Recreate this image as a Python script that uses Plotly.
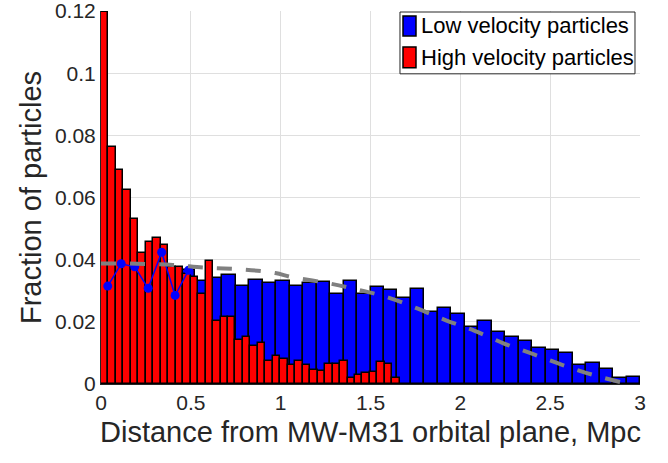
import plotly.graph_objects as go

# ---- data ----
blue_bin_width = 0.075
blue_values = [0.0315, 0.0387, 0.0377, 0.0308, 0.0424, 0.0285, 0.0366, 0.0332,
               0.0341, 0.0352, 0.0315, 0.0336, 0.0325, 0.0332, 0.0315, 0.0325,
               0.0328, 0.0288, 0.0333, 0.0290, 0.0312, 0.0304, 0.0277, 0.0305,
               0.0232, 0.0246, 0.0225, 0.0182, 0.0202, 0.0168, 0.0152, 0.0138,
               0.0117, 0.0109, 0.0100, 0.0061, 0.0068, 0.0047, 0.0020, 0.0023]

red_bin_width = 0.041575
red_values = [0.1197, 0.0762, 0.0690, 0.0623, 0.0530, 0.0423, 0.0457, 0.0470,
              0.0446, 0.0377, 0.0377, 0.0353, 0.0344, 0.0289, 0.0397, 0.0202,
              0.0215, 0.0217, 0.0142, 0.0152, 0.0122, 0.0133, 0.0075, 0.0089,
              0.0080, 0.0061, 0.0075, 0.0061, 0.0045, 0.0042, 0.0064, 0.0064,
              0.0075, 0.0020, 0.0029, 0.0036, 0.0039, 0.0070, 0.0063, 0.0018]

# hidden low-velocity values shown as a line over the red bars
line_count = 7

model_x = [0.0, 0.2, 0.4, 0.57, 0.8, 0.97, 1.06, 1.25, 1.42, 1.6, 1.76, 1.92,
           2.08, 2.24, 2.41, 2.57, 2.74, 2.91, 2.96]
model_y = [0.0388, 0.0387, 0.0383, 0.0375, 0.0368, 0.0357, 0.0344, 0.0326,
           0.0305, 0.0278, 0.0243, 0.0205, 0.0171, 0.0131, 0.0095, 0.0061,
           0.0029, 0.0004, 0.0]

x_ticks = [0, 0.5, 1, 1.5, 2, 2.5, 3]
y_ticks = [0, 0.02, 0.04, 0.06, 0.08, 0.1, 0.12]
y_tick_text = ["0", "0.02", "0.04", "0.06", "0.08", "0.1", "0.12"]
legend_names = ["Low velocity particles", "High velocity particles"]
legend_colors = ["#0000FF", "#FF0000"]

blue_x = [(i + 0.5) * blue_bin_width for i in range(len(blue_values))]
red_x = [(i + 0.5) * red_bin_width for i in range(len(red_values))]

FONT = "Liberation Sans, Arial, sans-serif"
TXT = "#262626"

fig = go.Figure()
fig.add_trace(go.Bar(x=blue_x, y=blue_values, width=blue_bin_width,
                     marker=dict(color=legend_colors[0], line=dict(color="black", width=1.5)),
                     name=legend_names[0], showlegend=False))
fig.add_trace(go.Bar(x=red_x, y=red_values, width=red_bin_width,
                     marker=dict(color=legend_colors[1], line=dict(color="black", width=1.5)),
                     name=legend_names[1], showlegend=False))
fig.add_trace(go.Scatter(x=blue_x[:line_count], y=blue_values[:line_count],
                         mode="lines+markers", showlegend=False,
                         line=dict(color="#0000FF", width=1.5),
                         marker=dict(color="#0000FF", size=9)))
fig.add_trace(go.Scatter(x=model_x, y=model_y, mode="lines", showlegend=False,
                         line=dict(color="#808080", width=4, dash="15px,14px",
                                   shape="spline")))

# manual legend box (paper coordinates of the plot area)
shapes = [dict(type="rect", xref="paper", yref="paper",
               x0=0.5547, x1=0.9907, y0=0.8316, y1=0.9973,
               fillcolor="white", line=dict(color="#262626", width=1), layer="above")]
annotations = []
rows = [(0.9866, 0.9332, 0.9599), (0.9037, 0.8476, 0.8743)]
for (ytop, ybot, ymid), name, col in zip(rows, legend_names, legend_colors):
    shapes.append(dict(type="rect", xref="paper", yref="paper",
                       x0=0.5603, x1=0.5844, y0=ybot, y1=ytop,
                       fillcolor=col, line=dict(color="black", width=1.5), layer="above"))
    annotations.append(dict(xref="paper", yref="paper", x=0.5900, y=ymid,
                            xanchor="left", yanchor="middle", text=name,
                            showarrow=False, font=dict(size=22, color="black")))

fig.update_layout(
    width=668, height=463,
    margin=dict(l=101, r=28, t=11, b=79),
    barmode="overlay", bargap=0,
    plot_bgcolor="white", paper_bgcolor="white",
    font=dict(family=FONT, color=TXT),
    showlegend=False,
    shapes=shapes, annotations=annotations,
    xaxis=dict(range=[0, 3], tickvals=x_ticks, ticktext=[str(t) for t in x_ticks],
               showgrid=True, gridcolor="#dfdfdf", gridwidth=1,
               zeroline=False, showline=True, linecolor=TXT, linewidth=1,
               tickfont=dict(size=21, color=TXT), ticks="",
               ticklabeloverflow="allow", automargin=False,
               title=dict(text="Distance from MW-M31 orbital plane, Mpc",
                          font=dict(size=29, color=TXT), standoff=8)),
    yaxis=dict(range=[0, 0.12002], tickvals=y_ticks, ticktext=y_tick_text,
               showgrid=True, gridcolor="#dfdfdf", gridwidth=1,
               zeroline=False, showline=True, linecolor=TXT, linewidth=1,
               tickfont=dict(size=21, color=TXT), ticks="",
               ticklabeloverflow="allow", automargin=False,
               title=dict(text="Fraction of particles",
                          font=dict(size=29, color=TXT), standoff=4)),
)

fig.write_html("out.html")
